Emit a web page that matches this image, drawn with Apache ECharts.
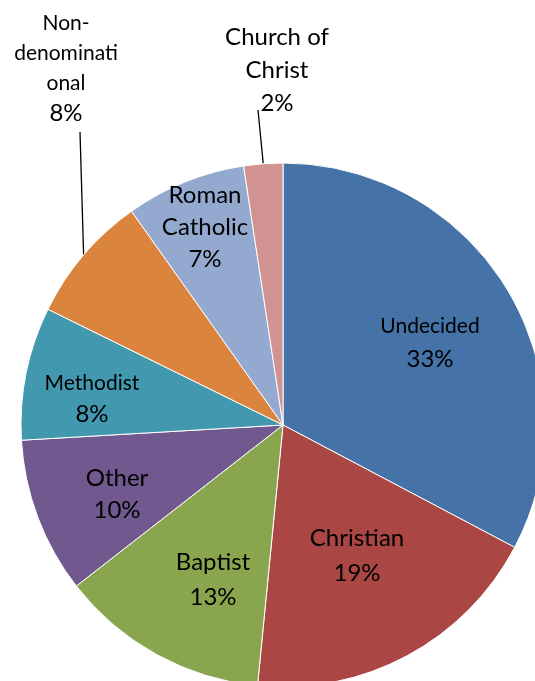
<!DOCTYPE html>
<html>
<head>
<meta charset="utf-8">
<script src="https://cdn.jsdelivr.net/npm/echarts@6/dist/echarts.min.js"></script>
<style>
html,body{margin:0;padding:0;background:#fff;}
#chart{width:535px;height:681px;}
</style>
</head>
<body>
<div id="chart"></div>
<script>
// ---- data ----
const categories = ['Undecided', 'Christian', 'Baptist', 'Other', 'Methodist', 'Non-denominational', 'Roman Catholic', 'Church of Christ'];
const labelText = ['Undecided', 'Christian', 'Baptist', 'Other', 'Methodist', 'Non-\ndenominati\nonal', 'Roman\nCatholic', 'Church of\nChrist'];
const values = [32.7, 18.8, 12.9, 9.6, 8.2, 7.9, 7.4, 2.4];

// ---- styles / layout ----
const colors = ['#4572A7', '#AA4643', '#89A54E', '#71588F', '#4198AF', '#DB843D', '#93A9CF', '#D19392'];
const labelCenters = [[430, 343], [357, 556], [213, 580], [117, 494], [92, 399], [66, 68], [205, 227], [277, 70]];
const nameSizes = [21, 24, 24, 24, 21, 21, 24, 24];
const lineHeights = [33, 35, 35, 32, 31, 30, 32, 33];
const outside = [false, false, false, false, false, true, false, true];
const leaderEnds = [null, null, null, null, null, [80, 132], null, [258, 110]];

const chart = echarts.init(document.getElementById('chart'), null, {renderer: 'canvas'});

const data = categories.map((name, i) => ({
  name: name,
  value: values[i],
  itemStyle: {color: colors[i]},
  label: {
    position: outside[i] ? 'outside' : 'inside',
    rich: {
      n: {fontSize: nameSizes[i], lineHeight: lineHeights[i], fontFamily: 'Lato', color: '#000'},
      p: {fontSize: 24, lineHeight: lineHeights[i], fontFamily: 'Lato', color: '#000'}
    }
  },
  labelLine: {show: outside[i], lineStyle: {color: '#000', width: 1.3}, length: 10, length2: 0}
}));

chart.setOption({
  backgroundColor: '#fff',
  animation: false,
  series: [{
    type: 'pie',
    center: [283, 425],
    radius: 262,
    startAngle: 90,
    clockwise: true,
    percentPrecision: 0,
    avoidLabelOverlap: false,
    itemStyle: {borderColor: '#ffffff', borderWidth: 1},
    label: {
      show: true,
      fontFamily: 'Lato',
      color: '#000',
      align: 'center',
      formatter: function (p) {
        return '{n|' + labelText[p.dataIndex] + '}\n{p|' + p.percent + '%}';
      }
    },
    labelLayout: function (params) {
      const i = params.dataIndex;
      const c = labelCenters[i];
      const out = {x: c[0], y: c[1], align: 'center', verticalAlign: 'middle'};
      if (leaderEnds[i] && params.labelLinePoints) {
        const p0 = params.labelLinePoints[0];
        out.labelLinePoints = [[p0[0], p0[1]], leaderEnds[i].slice(), leaderEnds[i].slice()];
      }
      return out;
    },
    emphasis: {disabled: true},
    data: data
  }]
});
</script>
</body>
</html>
